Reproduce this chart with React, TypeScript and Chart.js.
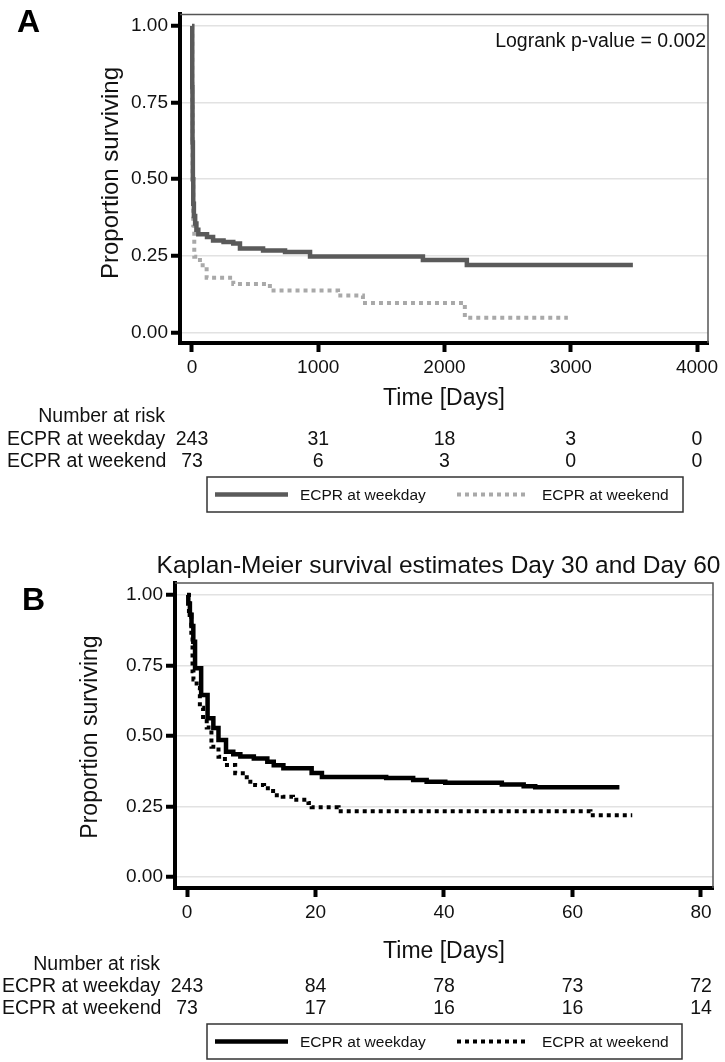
import React, { useEffect, useRef } from "react";
import { Chart, registerables } from "chart.js";

Chart.register(...registerables);

const FONT = "'Liberation Sans', Arial, Helvetica, sans-serif";
const W = 725;

// ---------- shared ----------
const groupLabels = ["ECPR at weekday", "ECPR at weekend"];
const yTicks = [0, 0.25, 0.5, 0.75, 1];

// ---------- Panel A (full follow-up) ----------
const xTicksA = [0, 1000, 2000, 3000, 4000];
const weekdayA_time = [0, 2, 4, 7, 10, 15, 25, 35, 50, 119, 167, 250, 327, 380, 563, 737, 935, 1829, 2177, 3492];
const weekdayA_surv = [1, 0.8, 0.62, 0.5, 0.42, 0.38, 0.355, 0.335, 0.32, 0.311, 0.3, 0.295, 0.29, 0.274, 0.267, 0.262, 0.248, 0.236, 0.22, 0.22];
const weekendA_time = [0, 2, 5, 10, 18, 63, 116, 327, 617, 1157, 1354, 2161, 2977];
const weekendA_surv = [1, 0.75, 0.5, 0.35, 0.247, 0.219, 0.178, 0.158, 0.137, 0.12, 0.096, 0.048, 0.048];
const riskA_weekday = [243, 31, 18, 3, 0];
const riskA_weekend = [73, 6, 3, 0, 0];
const pValueText = "Logrank p-value = 0.002";

// ---------- Panel B (Day 30 / Day 60) ----------
const xTicksB = [0, 20, 40, 60, 80];
const weekdayB_time = [0, 0.2, 0.45, 0.7, 0.98, 1.25, 2.2, 3.2, 4.1, 4.9, 6.07, 7.2, 8.3, 10.4, 12.5, 13.5, 15, 19.4, 21, 31, 35.2, 37.3, 40.2, 49, 52.4, 54.2, 67.3];
const weekdayB_surv = [1, 0.97, 0.93, 0.89, 0.834, 0.74, 0.645, 0.563, 0.528, 0.486, 0.444, 0.435, 0.427, 0.42, 0.409, 0.396, 0.386, 0.369, 0.355, 0.351, 0.344, 0.338, 0.334, 0.328, 0.322, 0.318, 0.318];
const weekendB_time = [0, 0.3, 0.67, 0.86, 1.0, 1.5, 2.0, 2.5, 3.07, 3.8, 4.9, 5.9, 7.5, 9.3, 10.6, 12, 13.4, 14.9, 16.5, 18.9, 19.4, 23.6, 62.8, 69.3];
const weekendB_surv = [1, 0.93, 0.85, 0.73, 0.7, 0.67, 0.6, 0.56, 0.53, 0.462, 0.426, 0.397, 0.368, 0.338, 0.326, 0.315, 0.29, 0.285, 0.274, 0.262, 0.247, 0.233, 0.219, 0.219];
const riskB_weekday = [243, 84, 78, 73, 72];
const riskB_weekend = [73, 17, 16, 16, 14];
const titleB = "Kaplan-Meier survival estimates Day 30 and Day 60";

type Series = { label: string; t: number[]; s: number[]; color: string; dash: number[]; width: number };

type Spec = {
  letter: string;
  height: number;
  areaLeft: number;
  areaRight: number;
  areaTop: number;
  areaBottom: number;
  xMin: number;
  xMax: number;
  yMin: number;
  yMax: number;
  xTicks: number[];
  series: Series[];
  risk: number[][];
  title?: string;
  titleX?: number;
  titleBaseline?: number;
  pvalue?: string;
  letterX: number;
  letterBaseline: number;
  yTitleX: number;
  yTitleY: number;
  yTitleSize: number;
  xTitleBaseline: number;
  riskBaselines: number[];
  riskLabelRight: number;
  riskRowLeft: number;
  legendLeft: number;
  legendRight: number;
  legendTop: number;
  legendBottom: number;
};

function decorPlugin(spec: Spec) {
  return {
    id: "decor" + spec.letter,
    afterDraw(chart: any) {
      const ctx = chart.ctx as CanvasRenderingContext2D;
      const { left, right, top, bottom } = chart.chartArea;
      const xs = chart.scales.x;
      ctx.save();

      // thin top/right frame
      ctx.strokeStyle = "#555";
      ctx.lineWidth = 1.5;
      ctx.beginPath();
      ctx.moveTo(left, top);
      ctx.lineTo(right, top);
      ctx.lineTo(right, bottom);
      ctx.stroke();

      ctx.fillStyle = "#000";
      // panel letter
      ctx.font = `bold 32px ${FONT}`;
      ctx.textAlign = "left";
      ctx.textBaseline = "alphabetic";
      ctx.fillText(spec.letter, spec.letterX, spec.letterBaseline);

      ctx.fillStyle = "#111";
      if (spec.title) {
        ctx.font = `24.5px ${FONT}`;
        ctx.textAlign = "center";
        ctx.fillText(spec.title, spec.titleX || (left + right) / 2, spec.titleBaseline || 0);
      }
      if (spec.pvalue) {
        ctx.font = `19.5px ${FONT}`;
        ctx.textAlign = "right";
        ctx.fillText(spec.pvalue, right - 2, top + 33);
      }

      // axis titles
      ctx.save();
      ctx.translate(spec.yTitleX, spec.yTitleY);
      ctx.rotate(-Math.PI / 2);
      ctx.font = `${spec.yTitleSize}px ${FONT}`;
      ctx.textAlign = "center";
      ctx.textBaseline = "middle";
      ctx.fillText("Proportion surviving", 0, 0);
      ctx.restore();

      ctx.font = `23px ${FONT}`;
      ctx.textAlign = "center";
      ctx.textBaseline = "alphabetic";
      ctx.fillText("Time [Days]", (left + right) / 2, spec.xTitleBaseline);

      // risk table
      ctx.font = `19.5px ${FONT}`;
      ctx.textAlign = "right";
      ctx.fillText("Number at risk", spec.riskLabelRight, spec.riskBaselines[0]);
      spec.risk.forEach((row, r) => {
        const yb = spec.riskBaselines[r + 1];
        ctx.textAlign = "left";
        ctx.fillText(groupLabels[r], spec.riskRowLeft, yb);
        ctx.textAlign = "center";
        row.forEach((n, i) => {
          ctx.fillText(String(n), xs.getPixelForValue(spec.xTicks[i]), yb);
        });
      });

      // legend box
      const lt = spec.legendTop;
      const lb = spec.legendBottom;
      const ll = spec.legendLeft;
      const lr = spec.legendRight;
      ctx.strokeStyle = "#333";
      ctx.lineWidth = 1.5;
      ctx.strokeRect(ll, lt, lr - ll, lb - lt);
      const cy = (lt + lb) / 2;
      const entries = [
        { x0: ll + 8, x1: ll + 81, tx: ll + 93 },
        { x0: ll + 250, x1: ll + 322, tx: ll + 335 },
      ];
      spec.series.forEach((s, i) => {
        const e = entries[i];
        ctx.save();
        ctx.strokeStyle = s.color;
        ctx.lineWidth = s.width;
        ctx.lineCap = "butt";
        ctx.setLineDash(s.dash);
        ctx.beginPath();
        ctx.moveTo(e.x0, cy);
        ctx.lineTo(e.x1, cy);
        ctx.stroke();
        ctx.restore();
        ctx.font = `15.5px ${FONT}`;
        ctx.textAlign = "left";
        ctx.textBaseline = "middle";
        ctx.fillStyle = "#111";
        ctx.fillText(s.label, e.tx, cy + 1);
      });

      ctx.restore();
    },
  };
}

function makeConfig(spec: Spec): any {
  const axisFont = { family: FONT, size: 19 };
  return {
    type: "line",
    data: {
      datasets: spec.series.map((s) => ({
        label: s.label,
        data: s.t.map((t, i) => ({ x: t, y: s.s[i] })),
        borderColor: s.color,
        borderWidth: s.width,
        borderDash: s.dash,
        borderCapStyle: "butt",
        borderJoinStyle: "miter",
        stepped: "before",
        pointRadius: 0,
        fill: false,
        tension: 0,
      })),
    },
    options: {
      responsive: false,
      animation: false,
      devicePixelRatio: 1,
      layout: { padding: { left: 0, top: spec.areaTop, right: W - spec.areaRight, bottom: 0 } },
      plugins: { legend: { display: false }, tooltip: { enabled: false }, title: { display: false } },
      scales: {
        x: {
          type: "linear",
          min: spec.xMin,
          max: spec.xMax,
          afterBuildTicks: (a: any) => {
            a.ticks = spec.xTicks.map((v) => ({ value: v }));
          },
          afterFit: (s: any) => {
            s.height = spec.height - spec.areaBottom;
          },
          grid: { drawOnChartArea: false, drawTicks: true, tickLength: 9, tickWidth: 4, tickColor: "#000" },
          border: { display: true, color: "#000", width: 4 },
          ticks: {
            color: "#111",
            font: axisFont,
            padding: 4,
            maxRotation: 0,
            autoSkip: false,
            callback: (v: any) => String(v),
          },
        },
        y: {
          type: "linear",
          min: spec.yMin,
          max: spec.yMax,
          afterBuildTicks: (a: any) => {
            a.ticks = yTicks.map((v) => ({ value: v }));
          },
          afterFit: (s: any) => {
            s.width = spec.areaLeft;
          },
          grid: { color: "#e2e2e2", lineWidth: 1.5, drawTicks: true, tickLength: 9, tickWidth: 4, tickColor: "#000" },
          border: { display: true, color: "#000", width: 4 },
          ticks: {
            color: "#111",
            font: axisFont,
            padding: 3,
            autoSkip: false,
            callback: (v: any) => Number(v).toFixed(2),
          },
        },
      },
    },
    plugins: [decorPlugin(spec)],
  };
}

const specA: Spec = {
  letter: "A",
  height: 530,
  areaLeft: 180,
  areaRight: 708,
  areaTop: 2,
  areaBottom: 343,
  xMin: -95,
  xMax: 4087,
  yMin: -0.0346,
  yMax: 1.0377,
  xTicks: xTicksA,
  series: [
    { label: groupLabels[0], t: weekdayA_time, s: weekdayA_surv, color: "#5a5a5a", dash: [], width: 4.5 },
    { label: groupLabels[1], t: weekendA_time, s: weekendA_surv, color: "#a9a9a9", dash: [4, 4], width: 4 },
  ],
  risk: [riskA_weekday, riskA_weekend],
  pvalue: pValueText,
  letterX: 17,
  letterBaseline: 32,
  yTitleX: 111,
  yTitleY: 173,
  yTitleSize: 24,
  xTitleBaseline: 405,
  riskBaselines: [421.7, 445, 466.7],
  riskLabelRight: 165,
  riskRowLeft: 7,
  legendLeft: 207,
  legendRight: 683,
  legendTop: 477,
  legendBottom: 512,
};

const OFFB = 530;
const specB: Spec = {
  letter: "B",
  height: 532,
  areaLeft: 175,
  areaRight: 713,
  areaTop: 583 - OFFB,
  areaBottom: 888 - OFFB,
  xMin: -1.87,
  xMax: 81.87,
  yMin: -0.039,
  yMax: 1.0426,
  xTicks: xTicksB,
  series: [
    { label: groupLabels[0], t: weekdayB_time, s: weekdayB_surv, color: "#000000", dash: [], width: 4.5 },
    { label: groupLabels[1], t: weekendB_time, s: weekendB_surv, color: "#000000", dash: [4, 4], width: 4 },
  ],
  risk: [riskB_weekday, riskB_weekend],
  title: titleB,
  titleX: 438.5,
  titleBaseline: 573 - OFFB,
  letterX: 22,
  letterBaseline: 610 - OFFB,
  yTitleX: 91,
  yTitleY: 737 - OFFB,
  yTitleSize: 23,
  xTitleBaseline: 958 - OFFB,
  riskBaselines: [970 - OFFB, 991.7 - OFFB, 1014 - OFFB],
  riskLabelRight: 160,
  riskRowLeft: 2,
  legendLeft: 207,
  legendRight: 682,
  legendTop: 1024 - OFFB,
  legendBottom: 1059 - OFFB,
};

function KMPanel({ spec, top }: { spec: Spec; top: number }) {
  const ref = useRef<HTMLCanvasElement | null>(null);
  useEffect(() => {
    if (!ref.current) return;
    const chart = new Chart(ref.current, makeConfig(spec));
    return () => chart.destroy();
  }, [spec]);
  return (
    <canvas
      ref={ref}
      width={W}
      height={spec.height}
      style={{ position: "absolute", left: 0, top, width: W, height: spec.height, display: "block" }}
    />
  );
}

export default function App() {
  return (
    <div style={{ position: "absolute", left: 0, top: 0, width: W, height: 1062, background: "#fff", overflow: "hidden" }}>
      <KMPanel spec={specA} top={0} />
      <KMPanel spec={specB} top={OFFB} />
    </div>
  );
}
